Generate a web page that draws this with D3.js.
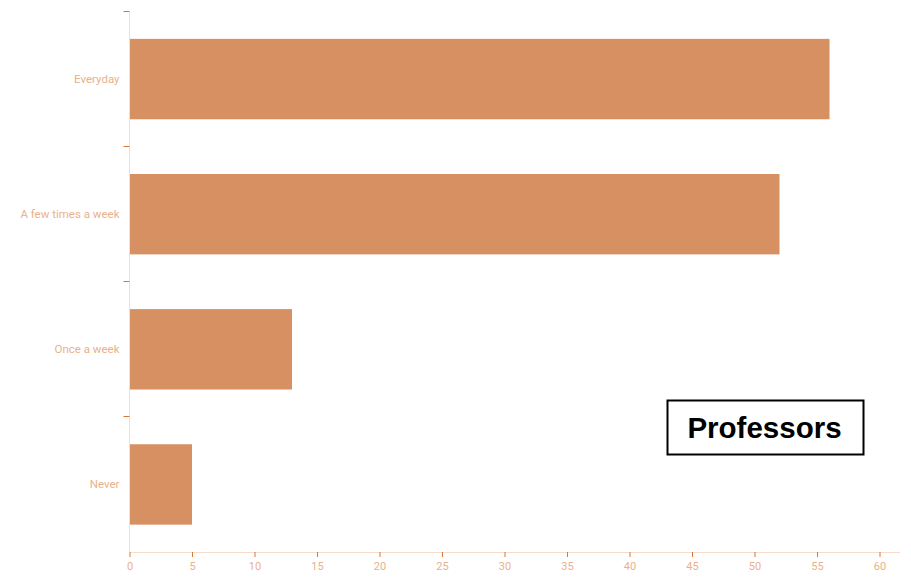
<!DOCTYPE html>
<html><head><meta charset="utf-8">
<script src="https://cdn.jsdelivr.net/npm/d3@7"></script>
<style>body{margin:0;background:#fff}svg{display:block}</style>
</head><body>
<svg id="c" width="911" height="577"></svg>
<script>
const categories = ["Everyday", "A few times a week", "Once a week", "Never"];
const values = [56, 52, 13, 5];
const xTicks = [0,5,10,15,20,25,30,35,40,45,50,55,60];
const title = "Professors";

(function(){
const svg = d3.select("#c");
const mL = 129.5, mR = 899.5, mT = 11.5, mB = 552;
const barColor = "#d69062", labelColor = "#e9b18c", tickColor = "#d9773a", axisColor = "#f6dccb";

const x = d3.scaleLinear().domain([0, d3.max(values) * 1.1]).range([mL, mR]);
const y = d3.scaleBand().domain(categories).range([mT, mB]).paddingInner(0).paddingOuter(0);
const barH = y.bandwidth() * 0.595;
const off = (y.bandwidth() - barH) / 2;

svg.selectAll("rect.bar").data(categories).join("rect")
  .attr("class","bar")
  .attr("x", x(0))
  .attr("y", d => y(d) + off)
  .attr("width", (d,i) => x(values[i]) - x(0))
  .attr("height", barH)
  .attr("fill", barColor);

svg.append("line").attr("x1", mL).attr("x2", mL).attr("y1", mT).attr("y2", mB)
  .attr("stroke", axisColor).attr("stroke-width", 1);
svg.selectAll("line.yt").data(categories).join("line").attr("class","yt")
  .attr("x1", mL - 6).attr("x2", mL).attr("y1", d => Math.floor(y(d)) + 0.5).attr("y2", d => Math.floor(y(d)) + 0.5)
  .attr("stroke", tickColor).attr("stroke-width", 1);
svg.selectAll("text.yl").data(categories).join("text").attr("class","yl")
  .attr("x", mL - 10).attr("y", d => y(d) + y.bandwidth()/2)
  .attr("dy", "0.35em").attr("text-anchor", "end")
  .attr("font-family", "Roboto, sans-serif").attr("font-size", 11.5).attr("fill", labelColor)
  .text(d => d);

const xg = svg.append("g").attr("transform", `translate(0,${mB})`)
  .call(d3.axisBottom(x).tickValues(xTicks).tickSize(5).tickSizeOuter(0).tickPadding(5));
xg.select(".domain").attr("stroke", axisColor);
xg.selectAll(".tick line").attr("stroke", tickColor);
xg.selectAll(".tick text").attr("fill", labelColor).attr("font-family", "Roboto, sans-serif").attr("font-size", 11);

const bx = 667.5, by = 400.5, bw = 196, bh = 54;
svg.append("rect").attr("x", bx).attr("y", by).attr("width", bw).attr("height", bh)
  .attr("fill", "#fff").attr("stroke", "#000").attr("stroke-width", 2);
svg.append("text").attr("x", bx + bw/2 - 1).attr("y", by + bh/2).attr("dy", "0.36em")
  .attr("text-anchor", "middle").attr("font-family", "Liberation Sans, Arial, sans-serif")
  .attr("font-weight", "bold").attr("font-size", 29.5).attr("fill", "#000").text(title);
})();
</script>
</body></html>
